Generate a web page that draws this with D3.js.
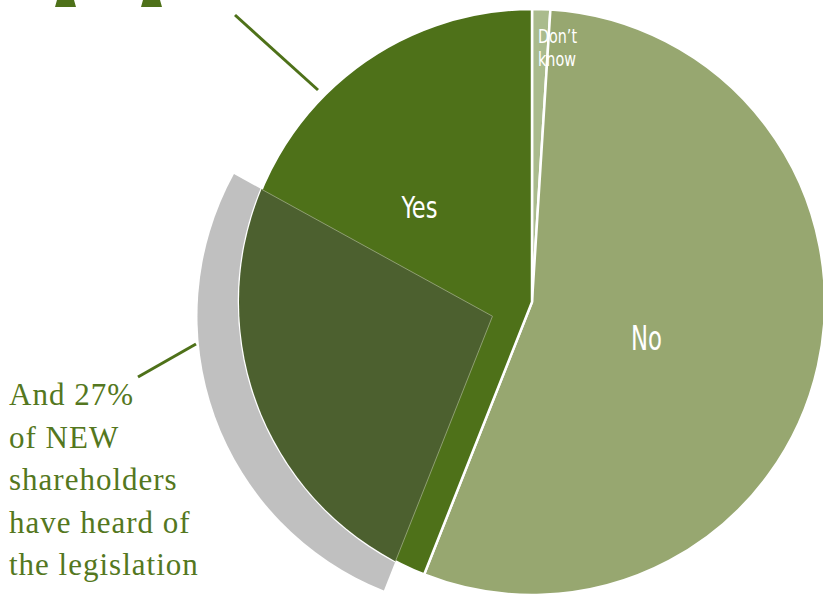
<!DOCTYPE html>
<html>
<head>
<meta charset="utf-8">
<script src="https://cdn.jsdelivr.net/npm/d3@7"></script>
<style>
  html, body { margin: 0; padding: 0; background: #fff; }
  svg { display: block; }
  .lbl { font-family: "DejaVu Sans", sans-serif; font-stretch: condensed; fill: #fff; }
  .note { font-family: "Liberation Serif", "DejaVu Serif", serif; fill: #547720; }
</style>
</head>
<body>
<svg id="chart" width="823" height="594"></svg>
<script>
// Have all shareholders heard of the legislation?
const categories = ["Don\u2019t know", "No", "Yes"];
const shares = [1, 55, 44];              // percent of all shareholders
const colors = ["#aabb8d", "#97a770", "#4e7119"];

// New shareholders who have heard of it (shown as an exploded overlay on "Yes")
const newCategories = ["Heard", "Not heard"];
const newShares = [27, 73];
const noteLines = ["And 27%", "of NEW", "shareholders", "have heard of", "the legislation"];

const W = 823, H = 594;
const cx = 532, cy = 302, R = 293;
const svg = d3.select("#chart");
const deg = Math.PI / 180;

// ---- main pie
const pie = d3.pie().sort(null).value(d => d);
const arcs = pie(shares);
const arc = d3.arc().innerRadius(0).outerRadius(R);

// ---- overlay pie for new shareholders, starting where "Yes" starts
const yesArc = arcs[2];
const newPie = d3.pie().sort(null).value(d => d)
  .startAngle(yesArc.startAngle).endAngle(yesArc.startAngle + 2 * Math.PI);
const heard = newPie(newShares)[0];
const mid = (heard.startAngle + heard.endAngle) / 2;
const explode = 42;
const ox = cx + Math.sin(mid) * explode, oy = cy - Math.cos(mid) * explode;
const heardArc = d3.arc().innerRadius(0).outerRadius(R + 2);

// grey halo sector behind the pie
svg.append("path")
  .attr("transform", `translate(${ox},${oy})`)
  .attr("d", heardArc(heard))
  .attr("fill", "#c0c0c0");

const g = svg.append("g").attr("transform", `translate(${cx},${cy})`);
g.selectAll("path.slice").data(arcs).join("path")
  .attr("class", "slice")
  .attr("d", arc)
  .attr("fill", (d, i) => colors[i])
  .attr("stroke", "#fff")
  .attr("stroke-width", 2.5)
  .attr("stroke-linejoin", "miter");

// dark overlay sector, clipped to the main pie disc
svg.append("clipPath").attr("id", "disc")
  .append("circle").attr("cx", cx).attr("cy", cy).attr("r", R);
svg.append("g").attr("clip-path", "url(#disc)")
  .append("path")
  .attr("transform", `translate(${ox},${oy})`)
  .attr("d", heardArc(heard))
  .attr("fill", "#4c602f")
  .attr("stroke", "#8f9f72")
  .attr("stroke-width", 1);

// ---- slice labels
function polar(angleDeg, r) {
  return [cx + Math.sin(angleDeg * deg) * r, cy - Math.cos(angleDeg * deg) * r];
}
function label(text, x, y, size, width) {
  svg.append("text").attr("class", "lbl").attr("x", x).attr("y", y)
    .attr("text-anchor", "middle")
    .attr("font-size", size)
    .attr("textLength", width).attr("lengthAdjust", "spacingAndGlyphs")
    .text(text);
}
const [yx, yy] = polar(310, 147);
label(categories[2], yx, yy + 10, 30, 36);
const [nx, ny] = polar(107.4, 120);
label(categories[1], nx, ny + 12, 33, 31);
const dkWords = categories[0].split(" ");
const dkWidths = [39, 38];
dkWords.forEach((w, i) => {
  svg.append("text").attr("class", "lbl")
    .attr("x", 538).attr("y", 43 + i * 23)
    .attr("font-size", 20)
    .attr("textLength", dkWidths[i]).attr("lengthAdjust", "spacingAndGlyphs")
    .text(w);
});

// ---- annotation
const note = svg.append("text").attr("class", "note")
  .attr("font-size", 31).attr("letter-spacing", 1.0);
noteLines.forEach((t, i) => {
  note.append("tspan").attr("x", 9).attr("y", 405 + i * 42.5).text(t);
});

// leader lines
const ink = "#4e7119";
svg.append("line").attr("x1", 235).attr("y1", 15).attr("x2", 318).attr("y2", 90)
  .attr("stroke", ink).attr("stroke-width", 3);
svg.append("line").attr("x1", 138).attr("y1", 377).attr("x2", 196).attr("y2", 344)
  .attr("stroke", ink).attr("stroke-width", 3);

// heading glyph feet running off the top edge
svg.append("path").attr("d", "M57,0 L74,0 L76,7 L55,7 Z").attr("fill", ink);
svg.append("path").attr("d", "M143,0 L160,0 L162,7 L141,7 Z").attr("fill", ink);
</script>
</body>
</html>
